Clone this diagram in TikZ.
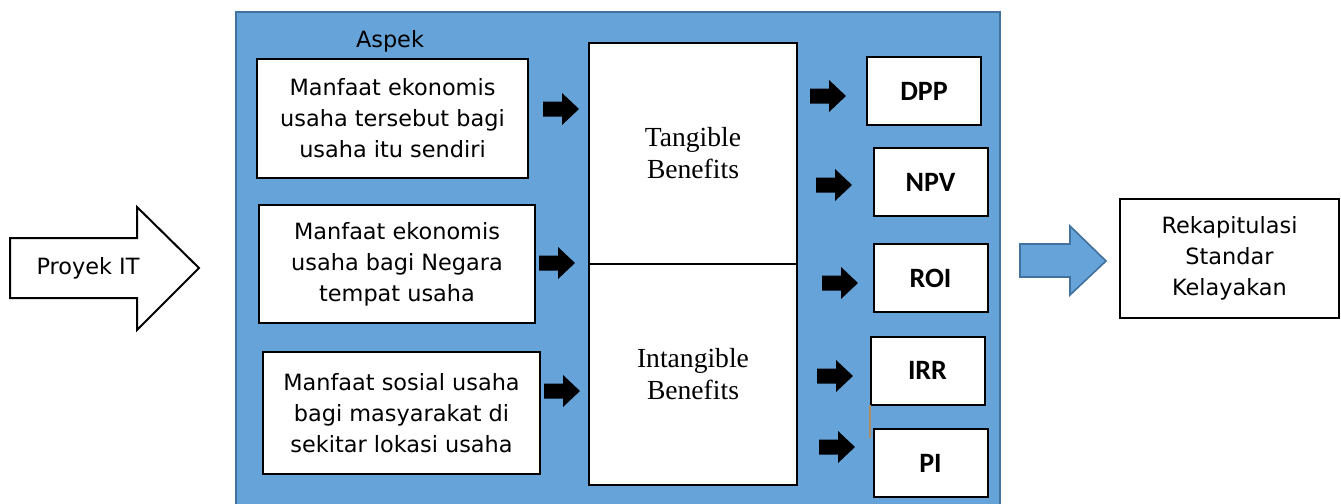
\documentclass[tikz,border=0pt]{standalone}
\usepackage{fontspec}
\setmainfont{DejaVu Sans}
\newfontfamily\timesfont{Liberation Serif}
\newfontfamily\calibfont{Carlito}
\usepackage{tikz}
\usetikzlibrary{positioning}

\definecolor{aspekblue}{RGB}{102,163,216}
\definecolor{edgeblue}{RGB}{65,113,156}
\definecolor{tanline}{RGB}{176,140,100}

\tikzset{
  aspekbox/.style={draw=black, line width=1pt, fill=white, align=center,
    font=\fontsize{11.2}{15.5}\selectfont, inner sep=0pt},
  benefitbox/.style={draw=black, line width=1pt, fill=white, align=center,
    font=\timesfont\fontsize{13.8}{16}\selectfont, inner sep=0pt,
    minimum width=104pt, minimum height=110.5pt},
  metricbox/.style={draw=black, line width=1pt, fill=white,
    font=\calibfont\bfseries\fontsize{14}{16}\selectfont, inner sep=0pt,
    minimum width=57pt, minimum height=34pt}
}

% black block arrow centred at (#1,#2)
\newcommand{\blkarrow}[2]{%
  \fill[black, shift={(#1,#2)}] (-18,-7.5) -- (1,-7.5) -- (1,-16) -- (18,0)
    -- (1,16) -- (1,7.5) -- (-18,7.5) -- cycle;}

\begin{document}
\begin{tikzpicture}[x=0.5pt, y=-0.5pt]
  \useasboundingbox (0,0) rectangle (1341,504);
  \fill[white] (0,0) rectangle (1341,504);

  % the Aspek panel
  \draw[fill=aspekblue, draw=edgeblue, line width=0.8pt] (236,12) rectangle (1000,510);
  \node[font=\fontsize{11.2}{13}\selectfont] (aspek) at (390,41) {Aspek};

  % input arrow
  \draw[fill=white, line width=1pt] (10,238) -- (137,238) -- (137,207) -- (199,268)
    -- (137,330) -- (137,298) -- (10,298) -- cycle;
  \node[font=\fontsize{11.2}{13}\selectfont] (proyek) at (88,268) {Proyek IT};

  % manfaat boxes
  \node[aspekbox, minimum width=135.5pt, minimum height=59.5pt] (m1) at (392.5,118.5)
    {Manfaat ekonomis\\usaha tersebut bagi\\usaha itu sendiri};
  \node[aspekbox, minimum width=138pt, minimum height=59pt] (m2) at (397,264)
    {Manfaat ekonomis\\usaha bagi Negara\\tempat usaha};
  \node[aspekbox, minimum width=138.5pt, minimum height=61pt] (m3) at (401.5,413)
    {Manfaat sosial usaha\\bagi masyarakat di\\sekitar lokasi usaha};

  \blkarrow{561}{109}
  \blkarrow{557}{263}
  \blkarrow{562}{391}

  % benefits
  \node[benefitbox] (tang) at (693,153.5) {Tangible\\Benefits};
  \node[benefitbox] (intang) at (693,374.5) {Intangible\\Benefits};

  \blkarrow{828}{96}
  \blkarrow{834}{185}
  \blkarrow{840}{283}
  \blkarrow{835}{376}
  \blkarrow{837}{447}

  % metrics
  \node[metricbox] (dpp) at (924,91) {DPP};
  \node[metricbox] (npv) at (930.5,182) {NPV};
  \node[metricbox] (roi) at (930.5,278) {ROI};
  \node[metricbox] (irr) at (927.5,370.5) {IRR};
  \node[metricbox] (pi) at (930.5,463) {PI};
  \draw[tanline, line width=0.6pt] (870,405) -- (870,438);

  % output
  \draw[fill=aspekblue, draw=edgeblue, line width=0.8pt] (1020,244) -- (1070,244)
    -- (1070,226) -- (1106,261) -- (1070,295) -- (1070,277) -- (1020,277) -- cycle;
  \node[aspekbox, minimum width=109.5pt, minimum height=59.5pt] (rekap) at (1229.5,258.5)
    {Rekapitulasi\\Standar\\Kelayakan};
\end{tikzpicture}
\end{document}
